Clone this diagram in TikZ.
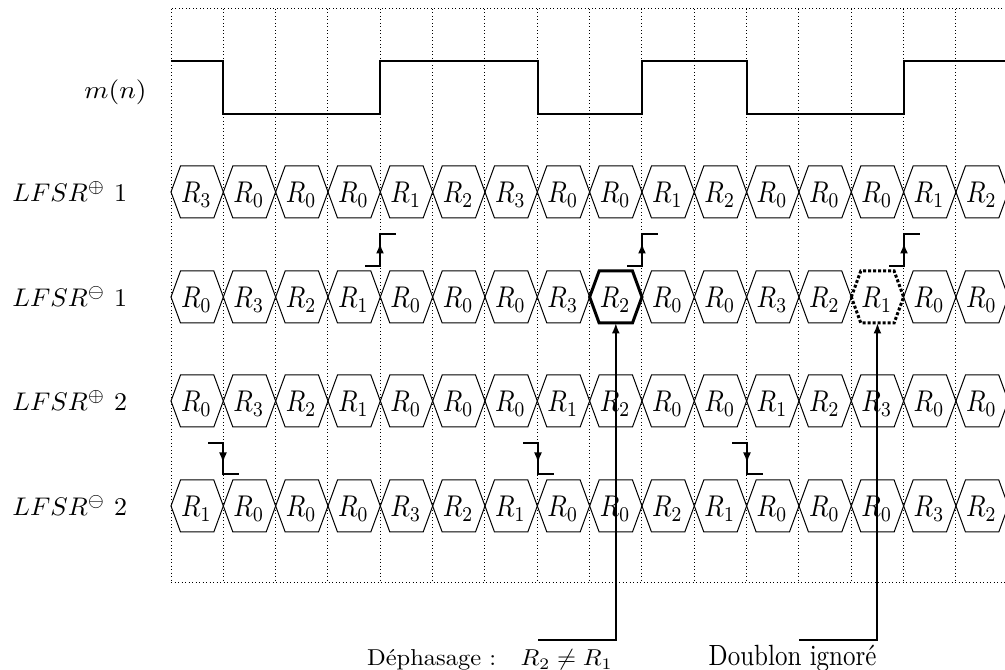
\documentclass[tikz,border=0pt]{standalone}
\usepackage{graphicx}
\usetikzlibrary{arrows.meta}
\newcommand\vstr[3]{\scalebox{#1}[#2]{#3}}
\newcommand\hexrow[3]{%
  \foreach \v/\s [count=\c from 0] in {#3}{%
    \pgfmathsetmacro\xa{171+52.33*\c}
    \draw[\s] (\xa,#1) -- ++(9.5,-26) -- ++(33.33,0) -- ++(9.5,26) -- ++(-9.5,26) -- ++(-33.33,0) -- cycle;
    \coordinate (#2-\c-s) at (\xa+26.17,#1+26);
    \node[hexlbl] (#2-\c) at (\xa+25.5,#1+11) {\vstr{1.02}{1.2}{$R_{\v}$}};
  }}
\begin{document}
\begin{tikzpicture}[x=0.4pt,y=-0.4pt,
  grid/.style={densely dotted, line width=0.4pt},
  sig/.style={line width=0.8pt},
  hexN/.style={line width=0.4pt},
  hexB/.style={line width=1.2pt},
  hexD/.style={line width=1.2pt, dash pattern=on 1.2pt off 0.8pt},
  sync/.style={line width=0.8pt},
  note/.style={line width=0.8pt},
  tip/.style={-{Latex[length=4.2pt,width=3.2pt]}},
  hexlbl/.style={inner sep=0pt, anchor=base},
  lbl/.style={inner sep=0pt},
]
\clip (0,0) rectangle (1005,670);
% grid
\draw[grid] (171,9) rectangle (1008.3,583);
\foreach \i in {1,...,15} \draw[grid] (171+52.33*\i,9) -- (171+52.33*\i,583);
% signal m(n)
\node[lbl] (mlab) at (115.5,92) {\vstr{1.1}{1.0}{$m(n)$}};
\draw[sig] (171,61) -- (223,61) -- (223,114) -- (380,114) -- (380,61) -- (538,61) -- (538,114)
  -- (642,114) -- (642,61) -- (747,61) -- (747,114) -- (904,114) -- (904,61) -- (1008,61);
% row labels
\node[lbl, anchor=base west] (l1) at (12,202) {\vstr{1.04}{1.02}{$LFSR^{\oplus}$ 1}};
\node[lbl, anchor=base west] (l2) at (12,307) {\vstr{1.04}{1.02}{$LFSR^{\ominus}$ 1}};
\node[lbl, anchor=base west] (l3) at (12,411) {\vstr{1.04}{1.02}{$LFSR^{\oplus}$ 2}};
\node[lbl, anchor=base west] (l4) at (12,516) {\vstr{1.04}{1.02}{$LFSR^{\ominus}$ 2}};
% hexagon rows
\hexrow{192}{A}{3/hexN,0/hexN,0/hexN,0/hexN,1/hexN,2/hexN,3/hexN,0/hexN,0/hexN,1/hexN,2/hexN,0/hexN,0/hexN,0/hexN,1/hexN,2/hexN}
\hexrow{297}{B}{0/hexN,3/hexN,2/hexN,1/hexN,0/hexN,0/hexN,0/hexN,3/hexN,2/hexB,0/hexN,0/hexN,3/hexN,2/hexN,1/hexD,0/hexN,0/hexN}
\hexrow{401}{C}{0/hexN,3/hexN,2/hexN,1/hexN,0/hexN,0/hexN,0/hexN,1/hexN,2/hexN,0/hexN,0/hexN,1/hexN,2/hexN,3/hexN,0/hexN,0/hexN}
\hexrow{506}{D}{1/hexN,0/hexN,0/hexN,0/hexN,3/hexN,2/hexN,1/hexN,0/hexN,0/hexN,2/hexN,1/hexN,0/hexN,0/hexN,0/hexN,3/hexN,2/hexN}
% up steps (rising edges)
\foreach \x [count=\k] in {380,642,904}{
  \coordinate (up\k) at (\x,250);
  \draw[sync] (up\k) ++(-15,16) -- ++(15,0) -- ++(0,-32) -- ++(16,0);
  \draw[sync,tip] (up\k) ++(0,16) -- ++(0,-23);
}
% down steps (falling edges)
\foreach \x [count=\k] in {223,538,747}{
  \coordinate (dn\k) at (\x,458);
  \draw[sync] (dn\k) ++(-15,-15) -- ++(15,0) -- ++(0,31) -- ++(16,0);
  \draw[sync,tip] (dn\k) ++(0,-15) -- ++(0,20);
}
% annotations
\node[lbl, anchor=base east] (deph) at (613,666) {\vstr{0.98}{0.92}{Déphasage :\quad$R_2 \neq R_1$}};
\node[lbl, anchor=base east] (doub) at (877,666) {\vstr{1}{1.17}{Doublon ignoré}};
\coordinate (k1) at (538,640);
\coordinate (k2) at (799,640);
\draw[note,tip] (k1) -| (B-8-s);
\draw[note,tip] (k2) -| (B-13-s);
\end{tikzpicture}
\end{document}
